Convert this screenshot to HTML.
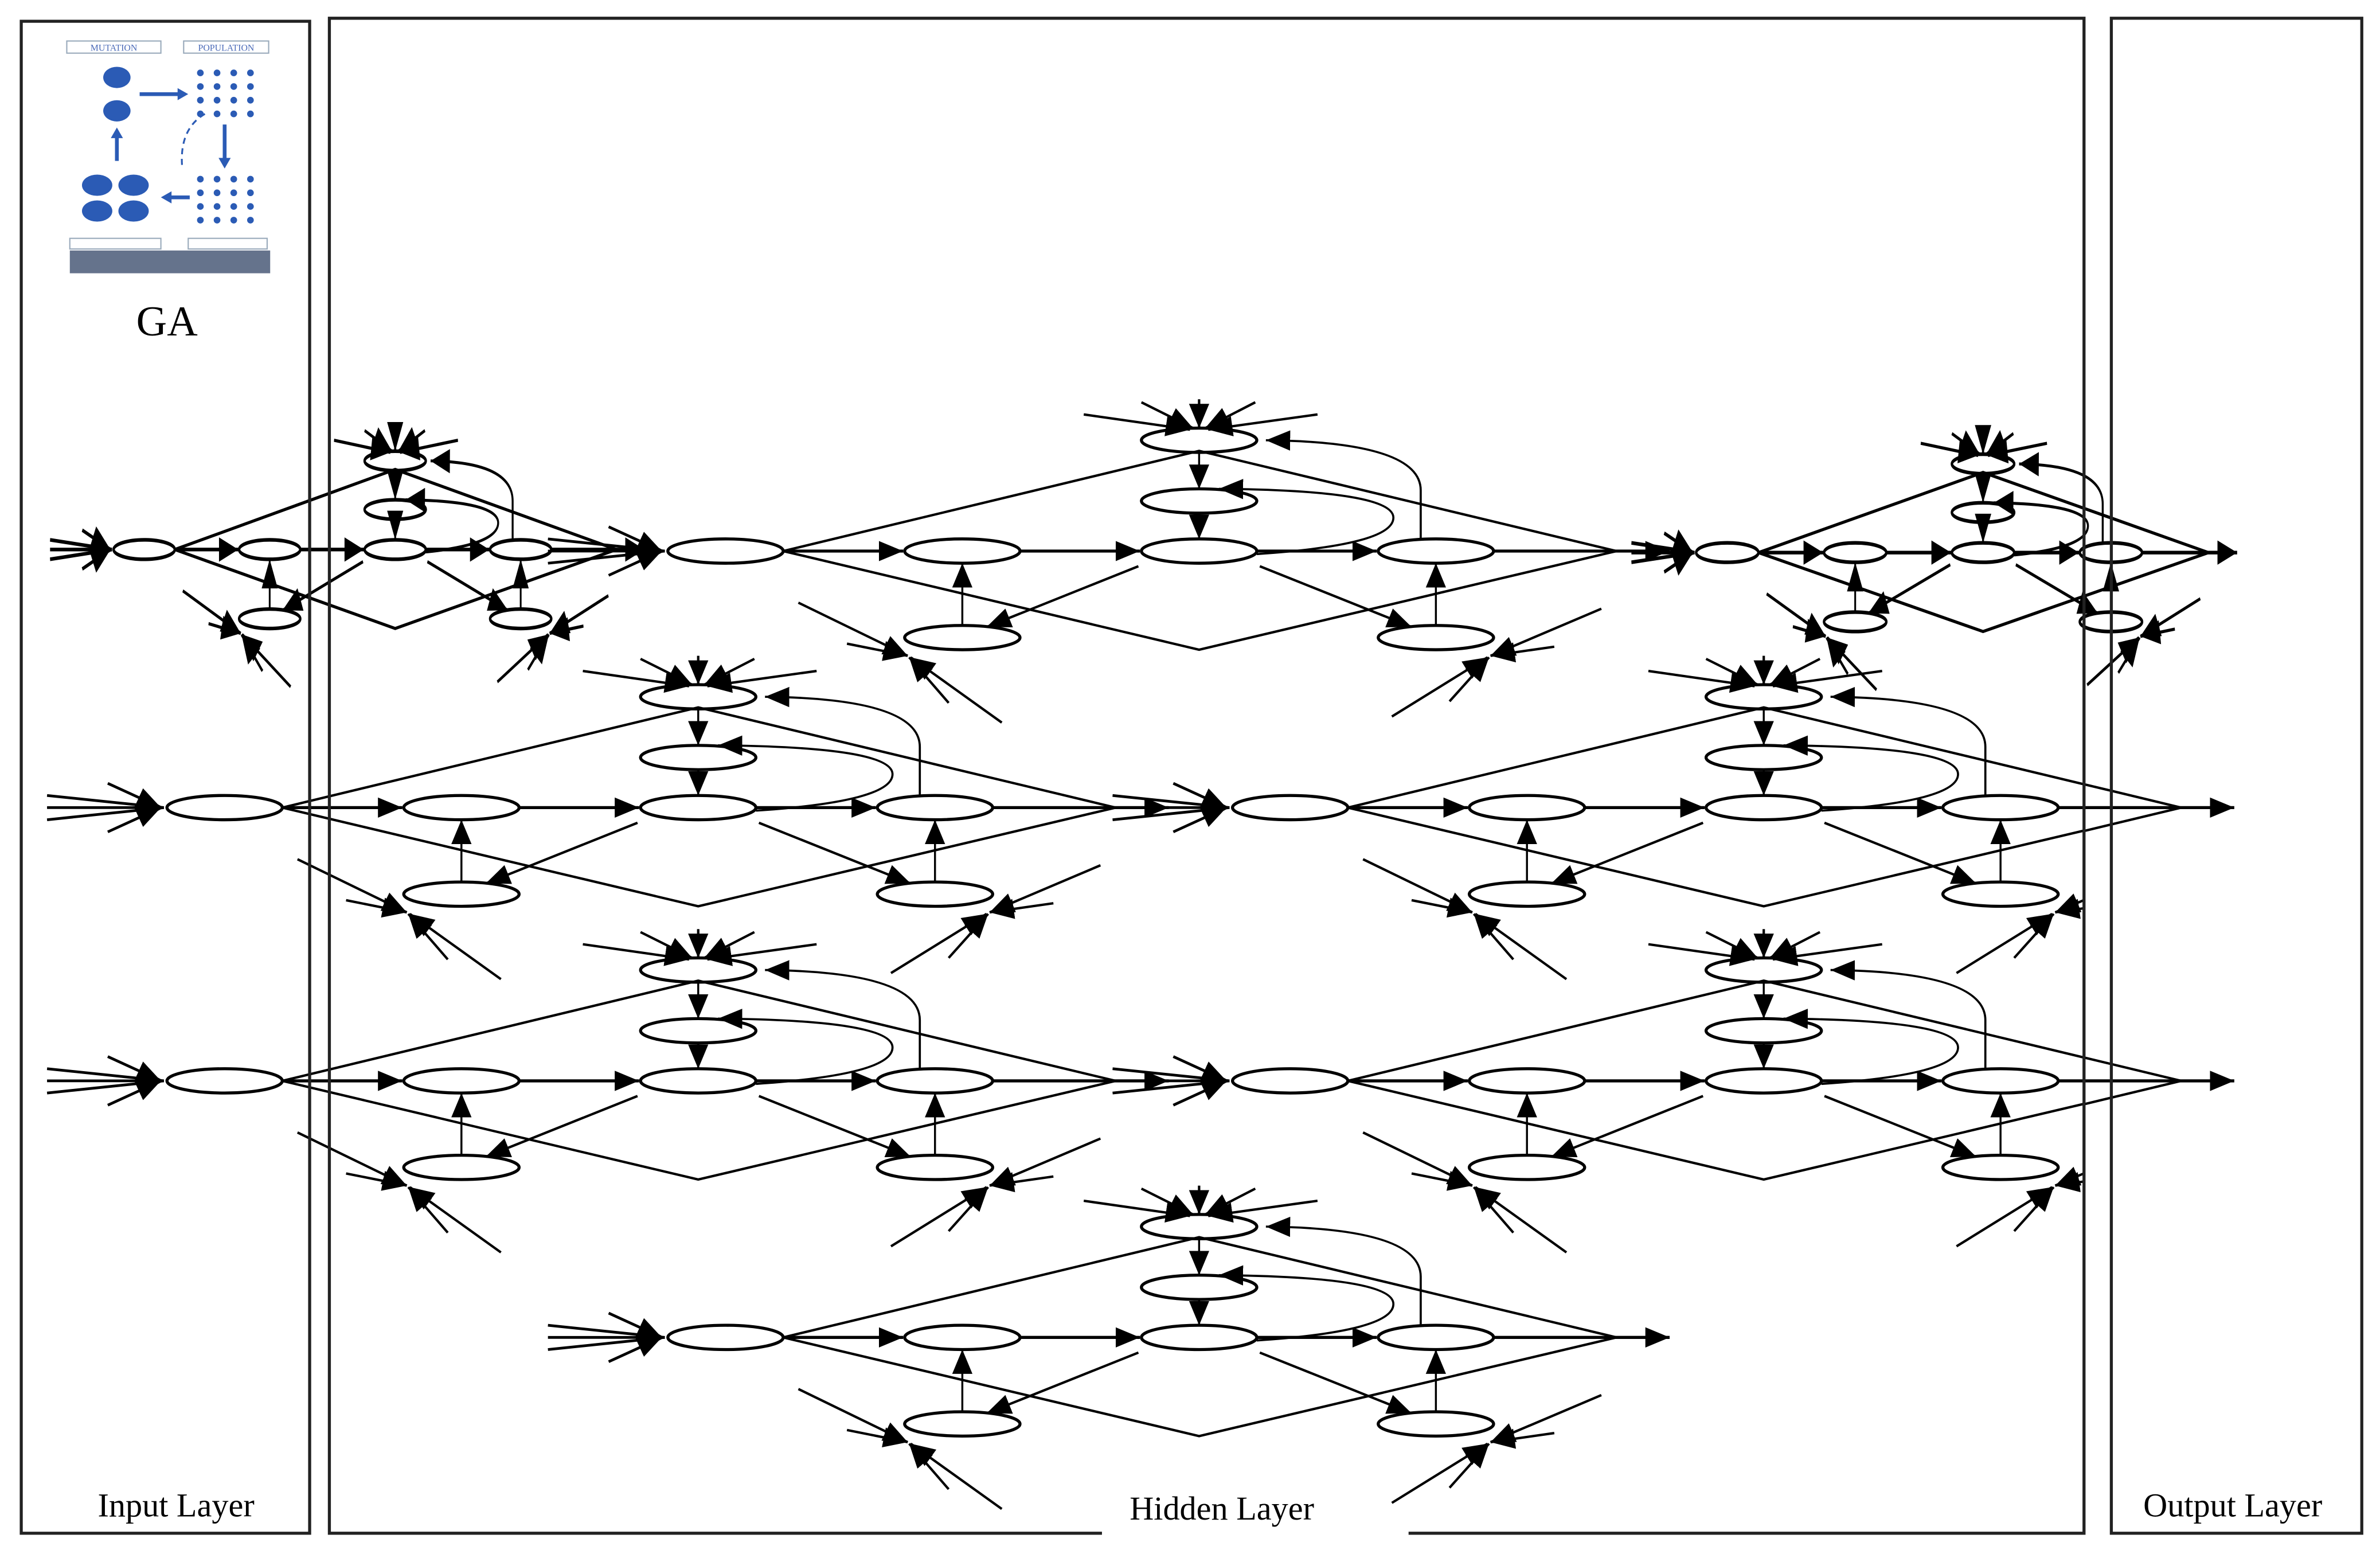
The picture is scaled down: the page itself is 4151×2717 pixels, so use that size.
<!DOCTYPE html>
<html><head><meta charset="utf-8"><style>
html,body{margin:0;padding:0;background:#fff}
svg{display:block}
text{font-family:"Liberation Serif",serif;fill:#000}
</style></head><body>
<svg width="4151" height="2717" viewBox="0 0 1568 1026.3" xmlns="http://www.w3.org/2000/svg">
<defs>
<marker id="a" viewBox="0 0 12 10" refX="12" refY="5" markerWidth="16" markerHeight="15" markerUnits="userSpaceOnUse" orient="auto"><path d="M0,0L12,5L0,10z" fill="#000"/></marker>
<marker id="b" viewBox="0 0 12 10" refX="12" refY="5" markerWidth="28" markerHeight="20" markerUnits="userSpaceOnUse" orient="auto"><path d="M0,0L12,5L0,10z" fill="#000"/></marker>
<clipPath id="hid"><rect x="0" y="0" width="1373" height="1026"/></clipPath>
<g id="m" fill="none" stroke="#000" stroke-width="2">
  <g stroke-width="1.8">
    <line x1="-117" y1="-8" x2="-40" y2="0" marker-end="url(#a)"/>
    <line x1="-117" y1="0" x2="-40" y2="0" marker-end="url(#a)"/>
    <line x1="-117" y1="8" x2="-40" y2="0" marker-end="url(#a)"/>
    <line x1="-77" y1="-16" x2="-42" y2="0" marker-end="url(#a)"/>
    <line x1="-77" y1="16" x2="-42" y2="0" marker-end="url(#a)"/>
  </g>
  <ellipse cx="0" cy="0" rx="38" ry="8"/>
  <ellipse cx="156" cy="0" rx="38" ry="8"/>
  <ellipse cx="312" cy="0" rx="38" ry="8"/>
  <ellipse cx="468" cy="0" rx="38" ry="8"/>
  <ellipse cx="312" cy="-73" rx="38" ry="8"/>
  <ellipse cx="312" cy="-33" rx="38" ry="8"/>
  <ellipse cx="156" cy="57" rx="38" ry="8"/>
  <ellipse cx="468" cy="57" rx="38" ry="8"/>
  <line x1="38" y1="0" x2="117" y2="0" marker-end="url(#a)"/>
  <line x1="194" y1="0" x2="273" y2="0" marker-end="url(#a)"/>
  <line x1="350" y1="0" x2="429" y2="0" marker-end="url(#a)"/>
  <line x1="506" y1="0" x2="622" y2="0" marker-end="url(#a)"/>
  <polyline points="38,0 312,-66 587,0 312,65 38,0" stroke-width="1.6"/>
  <line x1="272" y1="10" x2="172" y2="50" stroke-width="1.6" marker-end="url(#a)"/>
  <line x1="352" y1="10" x2="452" y2="50" stroke-width="1.6" marker-end="url(#a)"/>
  <line x1="156" y1="49" x2="156" y2="8" stroke-width="1.3" marker-end="url(#a)"/>
  <line x1="468" y1="49" x2="468" y2="8" stroke-width="1.3" marker-end="url(#a)"/>
  <line x1="312" y1="-65" x2="312" y2="-41" stroke-width="1.3" marker-end="url(#a)"/>
  <line x1="312" y1="-25" x2="312" y2="-8" stroke-width="1.3" marker-end="url(#a)"/>
  <path d="M458,-8 L458,-40 Q458,-72 356,-73" stroke-width="1.4" marker-end="url(#a)"/>
  <path d="M350,2 Q440,-4 440,-22 Q440,-40 325,-41" stroke-width="1.4" marker-end="url(#a)"/>
  <g stroke-width="1.6">
    <line x1="236" y1="-90" x2="306" y2="-80" marker-end="url(#a)"/>
    <line x1="274" y1="-98" x2="308" y2="-81" marker-end="url(#a)"/>
    <line x1="312" y1="-100" x2="312" y2="-81" marker-end="url(#a)"/>
    <line x1="349" y1="-98" x2="316" y2="-81" marker-end="url(#a)"/>
    <line x1="390" y1="-90" x2="318" y2="-80" marker-end="url(#a)"/>
  </g>
  <g stroke-width="1.6">
    <line x1="48" y1="34" x2="120" y2="69" marker-end="url(#a)"/>
    <line x1="80" y1="61" x2="120" y2="69" marker-end="url(#a)"/>
    <line x1="147" y1="100" x2="121" y2="70" marker-end="url(#a)"/>
    <line x1="182" y1="113" x2="122" y2="70" marker-end="url(#a)"/>
  </g>
  <g stroke-width="1.6">
    <line x1="577" y1="38" x2="504" y2="69" marker-end="url(#a)"/>
    <line x1="546" y1="63" x2="504" y2="69" marker-end="url(#a)"/>
    <line x1="477" y1="99" x2="503" y2="70" marker-end="url(#a)"/>
    <line x1="439" y1="109" x2="502" y2="70" marker-end="url(#a)"/>
  </g>
</g>
<g id="s" fill="none" stroke="#000" stroke-width="3">
  <g stroke-width="3">
    <line x1="-117" y1="-8" x2="-40" y2="0" marker-end="url(#b)"/>
    <line x1="-117" y1="0" x2="-40" y2="0" marker-end="url(#b)"/>
    <line x1="-117" y1="8" x2="-40" y2="0" marker-end="url(#b)"/>
    <line x1="-77" y1="-16" x2="-42" y2="0" marker-end="url(#b)"/>
    <line x1="-77" y1="16" x2="-42" y2="0" marker-end="url(#b)"/>
  </g>
  <ellipse cx="0" cy="0" rx="38" ry="8"/>
  <ellipse cx="156" cy="0" rx="38" ry="8"/>
  <ellipse cx="312" cy="0" rx="38" ry="8"/>
  <ellipse cx="468" cy="0" rx="38" ry="8"/>
  <ellipse cx="312" cy="-73" rx="38" ry="8"/>
  <ellipse cx="312" cy="-33" rx="38" ry="8"/>
  <ellipse cx="156" cy="57" rx="38" ry="8"/>
  <ellipse cx="468" cy="57" rx="38" ry="8"/>
  <line x1="38" y1="0" x2="117" y2="0" marker-end="url(#b)"/>
  <line x1="194" y1="0" x2="273" y2="0" marker-end="url(#b)"/>
  <line x1="350" y1="0" x2="429" y2="0" marker-end="url(#b)"/>
  <line x1="506" y1="0" x2="622" y2="0" marker-end="url(#b)"/>
  <polyline points="38,0 312,-66 587,0 312,65 38,0" stroke-width="2.6"/>
  <line x1="272" y1="10" x2="172" y2="50" stroke-width="2.6" marker-end="url(#b)"/>
  <line x1="352" y1="10" x2="452" y2="50" stroke-width="2.6" marker-end="url(#b)"/>
  <line x1="156" y1="49" x2="156" y2="8" stroke-width="2.2" marker-end="url(#b)"/>
  <line x1="468" y1="49" x2="468" y2="8" stroke-width="2.2" marker-end="url(#b)"/>
  <line x1="312" y1="-65" x2="312" y2="-41" stroke-width="2.2" marker-end="url(#b)"/>
  <line x1="312" y1="-25" x2="312" y2="-8" stroke-width="2.2" marker-end="url(#b)"/>
  <path d="M458,-8 L458,-40 Q458,-72 356,-73" stroke-width="2.4" marker-end="url(#b)"/>
  <path d="M350,2 Q440,-4 440,-22 Q440,-40 325,-41" stroke-width="2.4" marker-end="url(#b)"/>
  <g stroke-width="2.6">
    <line x1="236" y1="-90" x2="306" y2="-80" marker-end="url(#b)"/>
    <line x1="274" y1="-98" x2="308" y2="-81" marker-end="url(#b)"/>
    <line x1="312" y1="-100" x2="312" y2="-81" marker-end="url(#b)"/>
    <line x1="349" y1="-98" x2="316" y2="-81" marker-end="url(#b)"/>
    <line x1="390" y1="-90" x2="318" y2="-80" marker-end="url(#b)"/>
  </g>
  <g stroke-width="2.6">
    <line x1="48" y1="34" x2="120" y2="69" marker-end="url(#b)"/>
    <line x1="80" y1="61" x2="120" y2="69" marker-end="url(#b)"/>
    <line x1="147" y1="100" x2="121" y2="70" marker-end="url(#b)"/>
    <line x1="182" y1="113" x2="122" y2="70" marker-end="url(#b)"/>
  </g>
  <g stroke-width="2.6">
    <line x1="577" y1="38" x2="504" y2="69" marker-end="url(#b)"/>
    <line x1="546" y1="63" x2="504" y2="69" marker-end="url(#b)"/>
    <line x1="477" y1="99" x2="503" y2="70" marker-end="url(#b)"/>
    <line x1="439" y1="109" x2="502" y2="70" marker-end="url(#b)"/>
  </g>
</g>
</defs>

<use href="#m" transform="translate(478,363)"/>
<use href="#m" transform="translate(148,532)"/>
<use href="#m" transform="translate(148,712)"/>
<use href="#m" transform="translate(478,881)"/>
<g clip-path="url(#hid)">
<use href="#m" transform="translate(850,532)"/>
<use href="#m" transform="translate(850,712)"/>
</g>
<g stroke="#000" fill="none">
  <line x1="1373" y1="516.6" x2="1437" y2="532" stroke-width="1.6"/>
  <line x1="1373" y1="547.4" x2="1437" y2="532" stroke-width="1.6"/>
  <line x1="1373" y1="532" x2="1472" y2="532" stroke-width="2" marker-end="url(#a)"/>
  <line x1="1373" y1="696.6" x2="1437" y2="712" stroke-width="1.6"/>
  <line x1="1373" y1="727.4" x2="1437" y2="712" stroke-width="1.6"/>
  <line x1="1373" y1="712" x2="1472" y2="712" stroke-width="2" marker-end="url(#a)"/>
</g>
<use href="#s" transform="translate(95,362) scale(0.53,0.8)"/>
<use href="#s" transform="translate(1138,364) scale(0.54,0.8)"/>

<g fill="none" stroke="#222" stroke-width="2">
  <rect x="14" y="14" width="190" height="996"/>
  <polyline points="726,1010 217,1010 217,12 1373,12 1373,1010 928,1010"/>
  <rect x="1391" y="12" width="165" height="998"/>
</g>

<g>
  <rect x="46" y="130" width="132" height="50" fill="#4a5a78" opacity="0.85"/>
  <rect x="43" y="25" width="136" height="140" fill="#fff"/>
  <rect x="44" y="27" width="62" height="8" fill="none" stroke="#9ab" stroke-width="0.8"/>
  <rect x="121" y="27" width="56" height="8" fill="none" stroke="#9ab" stroke-width="0.8"/>
  <text x="75" y="33.5" font-size="6" text-anchor="middle" style="fill:#4a6ab8">MUTATION</text>
  <text x="149" y="33.5" font-size="6" text-anchor="middle" style="fill:#4a6ab8">POPULATION</text>
  <ellipse cx="77" cy="51" rx="9" ry="7" fill="#2b5bb5"/>
  <ellipse cx="77" cy="73" rx="9" ry="7" fill="#2b5bb5"/>
  <line x1="92" y1="62" x2="118" y2="62" stroke="#2b5bb5" stroke-width="2.5"/>
  <path d="M117,58L124,62L117,66z" fill="#2b5bb5"/>
  <line x1="77" y1="106" x2="77" y2="90" stroke="#2b5bb5" stroke-width="2.5"/>
  <path d="M73,91L77,84L81,91z" fill="#2b5bb5"/>
  <line x1="148" y1="82" x2="148" y2="105" stroke="#2b5bb5" stroke-width="2.5"/>
  <path d="M144,104L148,111L152,104z" fill="#2b5bb5"/>
  <line x1="125" y1="130" x2="112" y2="130" stroke="#2b5bb5" stroke-width="2.5"/>
  <path d="M113,126L106,130L113,134z" fill="#2b5bb5"/>
  <path d="M135,75 Q118,85 120,110" fill="none" stroke="#2b5bb5" stroke-width="1.2" stroke-dasharray="4,3"/>
  <g fill="#2b5bb5">
    <ellipse cx="64" cy="122" rx="10" ry="7"/><ellipse cx="88" cy="122" rx="10" ry="7"/>
    <ellipse cx="64" cy="139" rx="10" ry="7"/><ellipse cx="88" cy="139" rx="10" ry="7"/>
  </g>
  <g fill="#2b5bb5">
    <circle cx="132" cy="48" r="2.2"/><circle cx="143" cy="48" r="2.2"/><circle cx="154" cy="48" r="2.2"/><circle cx="165" cy="48" r="2.2"/>
    <circle cx="132" cy="57" r="2.2"/><circle cx="143" cy="57" r="2.2"/><circle cx="154" cy="57" r="2.2"/><circle cx="165" cy="57" r="2.2"/>
    <circle cx="132" cy="66" r="2.2"/><circle cx="143" cy="66" r="2.2"/><circle cx="154" cy="66" r="2.2"/><circle cx="165" cy="66" r="2.2"/>
    <circle cx="132" cy="75" r="2.2"/><circle cx="143" cy="75" r="2.2"/><circle cx="154" cy="75" r="2.2"/><circle cx="165" cy="75" r="2.2"/>
    <circle cx="132" cy="118" r="2.2"/><circle cx="143" cy="118" r="2.2"/><circle cx="154" cy="118" r="2.2"/><circle cx="165" cy="118" r="2.2"/>
    <circle cx="132" cy="127" r="2.2"/><circle cx="143" cy="127" r="2.2"/><circle cx="154" cy="127" r="2.2"/><circle cx="165" cy="127" r="2.2"/>
    <circle cx="132" cy="136" r="2.2"/><circle cx="143" cy="136" r="2.2"/><circle cx="154" cy="136" r="2.2"/><circle cx="165" cy="136" r="2.2"/>
    <circle cx="132" cy="145" r="2.2"/><circle cx="143" cy="145" r="2.2"/><circle cx="154" cy="145" r="2.2"/><circle cx="165" cy="145" r="2.2"/>
  </g>
  <rect x="46" y="157" width="60" height="7" fill="none" stroke="#9ab" stroke-width="0.8"/>
  <rect x="124" y="157" width="52" height="7" fill="none" stroke="#9ab" stroke-width="0.8"/>
</g>
<text x="110" y="221" font-size="28" text-anchor="middle">GA</text>

<text x="116" y="999" font-size="22" text-anchor="middle">Input Layer</text>
<text x="805" y="1001" font-size="22" text-anchor="middle">Hidden Layer</text>
<text x="1471" y="999" font-size="22" text-anchor="middle">Output Layer</text>
</svg>
</body></html>
